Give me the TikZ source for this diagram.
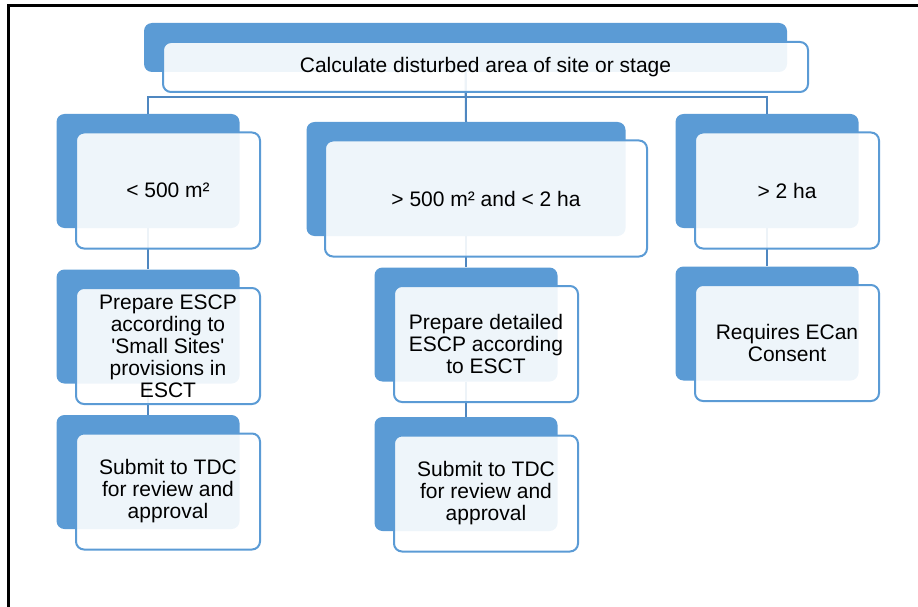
\documentclass[tikz,border=0pt]{standalone}
\usepackage{fontspec}
\setmainfont{Liberation Sans}
\usetikzlibrary{calc,positioning}
\definecolor{accent}{HTML}{5B9BD5}
\definecolor{linkblue}{HTML}{4F87C0}

\begin{document}
\begin{tikzpicture}[x=1pt,y=-1pt,
        back/.style={fill=accent,rounded corners=8pt,inner sep=0pt},
        front/.style={draw=accent,line width=2pt,fill=white,fill opacity=0.9,text opacity=1,
            rounded corners=8pt,inner sep=0pt,align=center,font=\fontsize{21}{22}\selectfont},
        unitback/.style={minimum width=183pt,minimum height=114pt},
        unitfront/.style={minimum width=184pt,minimum height=116pt},
        wideback/.style={minimum width=319pt,minimum height=114pt},
        widefront/.style={minimum width=322pt,minimum height=116pt},
        link/.style={draw=linkblue,line width=2pt}]
        \useasboundingbox (0,0) rectangle (918,607);
        % frame
        \draw[line width=3pt] (8.5,607)--(8.5,6)--(918,6);
        % back plates
        \node[back,minimum width=643pt,minimum height=49pt] (area) at (465.5,47.5) {};
        \node[back,unitback] (small) at (148,171) {};
        \node[back,wideback] (mid) at (466,179) {};
        \node[back,unitback] (big) at (767,171) {};
        \node[back,unitback] (smallescp) at (148,326.5) {};
        \node[back,unitback] (smallsubmit) at (148,472) {};
        \node[back,unitback] (midescp) at (466,324.5) {};
        \node[back,unitback] (midsubmit) at (466,474) {};
        \node[back,unitback] (bigconsent) at (767,323.5) {};
        % links
        \draw[link](area.south)--++(0,24.5)-|(small.north);
        \draw[link](area.south)--++(0,24.5)-|(big.north);
        \draw[link](area.south)--(mid.north);
        \draw[link](small.south)--(smallescp.north);
        \draw[link](smallescp.south)--(smallsubmit.north);
        \draw[link](mid.south)--(midescp.north);
        \draw[link](midescp.south)--(midsubmit.north);
        \draw[link](big.south)--(bigconsent.north);
        % front cards
        \node[front,minimum width=645pt,minimum height=50pt] (area-t) at ($(area)+(20,19.5)$) {Calculate disturbed area of site or stage};
        \node[front,unitfront] (small-t) at ($(small)+(20,19.5)$) {< 500 m²};
        \node[front,widefront] (mid-t) at ($(mid)+(20,19.5)$) {> 500 m² and < 2 ha};
        \node[front,unitfront] (big-t) at ($(big)+(20,19.5)$) {> 2 ha};
        \node[front,unitfront] (smallescp-t) at ($(smallescp)+(20,19.5)$) {Prepare ESCP\\according to\\\textquotesingle Small Sites\textquotesingle\\provisions in\\ESCT};
        \node[front,unitfront] (smallsubmit-t) at ($(smallsubmit)+(20,19.5)$) {Submit to TDC\\for review and\\approval};
        \node[front,unitfront] (midescp-t) at ($(midescp)+(20,19.5)$) {Prepare detailed\\ESCP according\\to ESCT};
        \node[front,unitfront] (midsubmit-t) at ($(midsubmit)+(20,19.5)$) {Submit to TDC\\for review and\\approval};
        \node[front,unitfront] (bigconsent-t) at ($(bigconsent)+(20,19.5)$) {Requires ECan\\Consent};
    \end{tikzpicture}
\end{document}
